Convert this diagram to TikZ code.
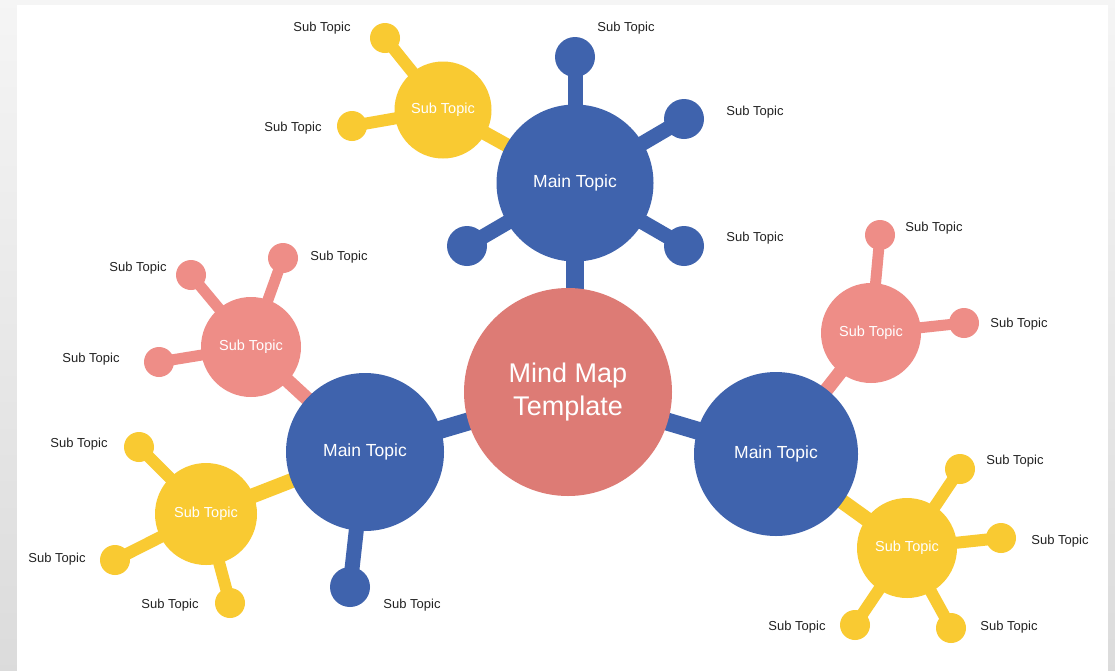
\documentclass[tikz,border=0pt]{standalone}
\usepackage{fontspec}
\setmainfont{Liberation Sans}
\definecolor{mblue}{HTML}{3F63AD}
\definecolor{myellow}{HTML}{F9CA32}
\definecolor{mpink}{HTML}{EE8D87}
\definecolor{mcore}{HTML}{DD7B75}
\definecolor{lbltext}{HTML}{222222}
\pgfdeclarelayer{panel}
\pgfdeclarelayer{links}
\pgfsetlayers{panel,links,main}
\tikzset{
  hub/.style={circle, fill=mcore, text=white, inner sep=0pt, minimum size=208pt,
    align=center, font=\fontsize{27}{33}\selectfont},
  maintopic/.style={circle, fill=mblue, text=white, inner sep=0pt,
    font=\fontsize{17.5}{20}\selectfont},
  subtopic/.style={circle, text=white, inner sep=0pt, minimum size=100pt,
    font=\fontsize{14.5}{17}\selectfont},
  leaf/.style={circle, inner sep=0pt},
  lbl/.style={text=lbltext, inner sep=0pt, font=\fontsize{13}{15}\selectfont},
  bluelink/.style={draw=mblue, line width=15pt},
  corelink/.style={draw=mblue, line width=18pt},
  yellowlink/.style={draw=myellow, line width=12pt},
  pinklink/.style={draw=mpink, line width=11pt},
}
\begin{document}
\begin{tikzpicture}[x=1pt, y=-1pt]
\useasboundingbox (0,0) rectangle (1115,670);
\begin{pgfonlayer}{panel}
  \shade[top color=black!4, bottom color=black!14] (0,0) rectangle (1115,670);
  \fill[white] (17,5) rectangle (1108,672);
\end{pgfonlayer}

% hub and main topics
\node[hub] (c) at (568,392) {Mind Map\\Template};
\node[maintopic, minimum size=157pt] (mT) at (575,183) {Main Topic};
\node[maintopic, minimum size=158pt] (mL) at (365,452) {Main Topic};
\node[maintopic, minimum size=164pt] (mR) at (776,454) {Main Topic};

% sub topics
\node[subtopic, fill=myellow, minimum size=97pt] (yT) at (443,110) {Sub Topic};
\node[subtopic, fill=mpink] (pL) at (251,347) {Sub Topic};
\node[subtopic, fill=myellow, minimum size=102pt] (yL) at (206,514) {Sub Topic};
\node[subtopic, fill=mpink] (pR) at (871,333) {Sub Topic};
\node[subtopic, fill=myellow] (yR) at (907,548) {Sub Topic};

% leaves of main topics
\node[leaf, fill=mblue, minimum size=40pt] (bT1) at (575,57) {};
\node[leaf, fill=mblue, minimum size=40pt] (bT2) at (684,119) {};
\node[leaf, fill=mblue, minimum size=40pt] (bT3) at (684,246) {};
\node[leaf, fill=mblue, minimum size=40pt] (bT4) at (467,246) {};
\node[leaf, fill=mblue, minimum size=40pt] (bL1) at (350,587) {};

% leaves of yellow top
\node[leaf, fill=myellow, minimum size=30pt] (yT1) at (385,38) {};
\node[leaf, fill=myellow, minimum size=30pt] (yT2) at (352,126) {};
% leaves of pink left
\node[leaf, fill=mpink, minimum size=30pt] (pL1) at (191,275) {};
\node[leaf, fill=mpink, minimum size=30pt] (pL2) at (283,258) {};
\node[leaf, fill=mpink, minimum size=30pt] (pL3) at (159,362) {};
% leaves of yellow left
\node[leaf, fill=myellow, minimum size=30pt] (yL1) at (139,447) {};
\node[leaf, fill=myellow, minimum size=30pt] (yL2) at (115,560) {};
\node[leaf, fill=myellow, minimum size=30pt] (yL3) at (230,603) {};
% leaves of pink right
\node[leaf, fill=mpink, minimum size=30pt] (pR1) at (880,235) {};
\node[leaf, fill=mpink, minimum size=30pt] (pR2) at (964,323) {};
% leaves of yellow right
\node[leaf, fill=myellow, minimum size=30pt] (yR1) at (960,469) {};
\node[leaf, fill=myellow, minimum size=30pt] (yR2) at (1001,538) {};
\node[leaf, fill=myellow, minimum size=30pt] (yR3) at (855,625) {};
\node[leaf, fill=myellow, minimum size=30pt] (yR4) at (951,628) {};

% labels
\node[lbl] (lbT1) at (626,28) {Sub Topic};
\node[lbl] (lbT2) at (755,112) {Sub Topic};
\node[lbl] (lbT3) at (755,238) {Sub Topic};
\node[lbl] (lbL1) at (412,605) {Sub Topic};
\node[lbl] (lyT1) at (322,28) {Sub Topic};
\node[lbl] (lyT2) at (293,128) {Sub Topic};
\node[lbl] (lpL1) at (138,268) {Sub Topic};
\node[lbl] (lpL2) at (339,257) {Sub Topic};
\node[lbl] (lpL3) at (91,359) {Sub Topic};
\node[lbl] (lyL1) at (79,444) {Sub Topic};
\node[lbl] (lyL2) at (57,559) {Sub Topic};
\node[lbl] (lyL3) at (170,605) {Sub Topic};
\node[lbl] (lpR1) at (934,228) {Sub Topic};
\node[lbl] (lpR2) at (1019,324) {Sub Topic};
\node[lbl] (lyR1) at (1015,461) {Sub Topic};
\node[lbl] (lyR2) at (1060,541) {Sub Topic};
\node[lbl] (lyR3) at (797,627) {Sub Topic};
\node[lbl] (lyR4) at (1009,627) {Sub Topic};

% connectors
\begin{pgfonlayer}{links}
  \draw[corelink] (mT.center) -- (mT.center |- c.center);
  \draw[corelink] (mL.center) -- (c.center);
  \draw[corelink] (mR.center) -- (c.center);
  \foreach \n in {bT1,bT2,bT3,bT4} \draw[bluelink] (mT.center) -- (\n.center);
  \draw[bluelink] (mL.center) -- (bL1.center);
  \draw[yellowlink, line width=14pt] (yT.center) -- (mT.center);
  \draw[pinklink, line width=14pt] (pL.center) -- (mL.center);
  \draw[yellowlink, line width=15pt] (yL.center) -- (mL.center);
  \draw[pinklink, line width=14pt] (pR.center) -- (mR.center);
  \draw[yellowlink, line width=15pt] (yR.center) -- (mR.center);
  \foreach \n in {yT1,yT2} \draw[yellowlink] (yT.center) -- (\n.center);
  \foreach \n in {pL1,pL2,pL3} \draw[pinklink] (pL.center) -- (\n.center);
  \foreach \n in {yL1,yL2,yL3} \draw[yellowlink] (yL.center) -- (\n.center);
  \foreach \n in {pR1,pR2} \draw[pinklink] (pR.center) -- (\n.center);
  \foreach \n in {yR1,yR2,yR3,yR4} \draw[yellowlink] (yR.center) -- (\n.center);
\end{pgfonlayer}
\end{tikzpicture}
\end{document}
